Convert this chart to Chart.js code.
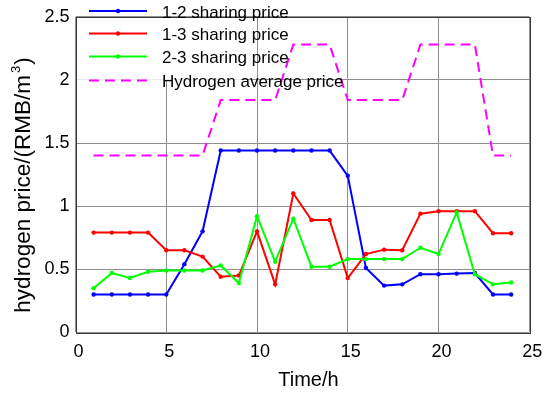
<!DOCTYPE html>
<html><head><meta charset="utf-8">
<script src="https://cdn.jsdelivr.net/npm/chart.js@4"></script>
<style>html,body{margin:0;padding:0;background:#fff}</style>
</head><body>
<canvas id="c" width="550" height="393" style="display:block;width:550px;height:393px"></canvas>
<script>
// ---- data ----
const hours = [1,2,3,4,5,6,7,8,9,10,11,12,13,14,15,16,17,18,19,20,21,22,23,24];
const price12 = [0.30,0.30,0.30,0.30,0.30,0.54,0.80,1.44,1.44,1.44,1.44,1.44,1.44,1.44,1.24,0.51,0.37,0.38,0.46,0.46,0.465,0.47,0.30,0.30];
const price13 = [0.79,0.79,0.79,0.79,0.65,0.65,0.60,0.44,0.45,0.80,0.38,1.10,0.89,0.89,0.43,0.62,0.655,0.65,0.94,0.96,0.96,0.96,0.785,0.785];
const price23 = [0.35,0.47,0.43,0.48,0.49,0.49,0.49,0.53,0.39,0.92,0.56,0.90,0.52,0.52,0.58,0.58,0.58,0.58,0.67,0.62,0.95,0.46,0.38,0.395];
const avgPrice = [1.40,1.40,1.40,1.40,1.40,1.40,1.40,1.84,1.84,1.84,1.84,2.28,2.28,2.28,1.84,1.84,1.84,1.84,2.28,2.28,2.28,2.28,1.40,1.40];
const seriesLabels = ['1-2 sharing price','1-3 sharing price','2-3 sharing price','Hydrogen average price'];
const xTicks = [0,5,10,15,20,25];
const yTicks = [0,0.5,1,1.5,2,2.5];
const xTitle = 'Time/h';
const yTitleMain = 'hydrogen price/(RMB/m';
const yTitleSup = '3';
const yTitleEnd = ')';

const FONT = '"Liberation Sans", Arial, Helvetica, sans-serif';
const pts = arr => hours.map((h,i)=>({x:h,y:arr[i]}));

const colors = ['#0000ff','#ff0000','#00ff00','#ff00ff'];

const datasets = [
  {label:seriesLabels[0], data:pts(price12), borderColor:colors[0], backgroundColor:colors[0], borderWidth:2, pointRadius:2.2, pointBorderWidth:0, order:4},
  {label:seriesLabels[1], data:pts(price13), borderColor:colors[1], backgroundColor:colors[1], borderWidth:2, pointRadius:2.2, pointBorderWidth:0, order:3},
  {label:seriesLabels[2], data:pts(price23), borderColor:colors[2], backgroundColor:colors[2], borderWidth:2, pointRadius:2.2, pointBorderWidth:0, order:2},
  {label:seriesLabels[3], data:pts(avgPrice), borderColor:colors[3], backgroundColor:colors[3], borderWidth:2, borderDash:[10,6], pointRadius:0, order:1}
];

const decor = {
  id:'decor',
  beforeDatasetsDraw(chart){
    const ctx = chart.ctx, a = chart.chartArea;
    ctx.save();
    ctx.fillStyle = '#fff';
    ctx.fillRect(a.left+1, a.top+1, 165, 62);
    ctx.restore();
  },
  afterDraw(chart){
    const ctx = chart.ctx, a = chart.chartArea;
    ctx.save();
    // box
    ctx.strokeStyle = '#3a3a3a';
    ctx.lineWidth = 1;
    ctx.strokeRect(Math.round(a.left)+0.5, Math.round(a.top)+0.5, Math.round(a.right-a.left), Math.round(a.bottom-a.top));
    // legend
    const rows = [11, 33.5, 56.5, 80.5];
    ctx.font = '17px ' + FONT;
    ctx.textBaseline = 'middle';
    ctx.textAlign = 'left';
    chart.data.datasets.forEach((ds,i)=>{
      const y = rows[i];
      ctx.strokeStyle = ds.borderColor;
      ctx.lineWidth = 2;
      ctx.setLineDash(ds.borderDash || []);
      ctx.beginPath(); ctx.moveTo(89, y); ctx.lineTo(147, y); ctx.stroke();
      ctx.setLineDash([]);
      if (ds.pointRadius > 0){
        ctx.fillStyle = ds.borderColor;
        ctx.beginPath(); ctx.arc(118, y, 2.2, 0, Math.PI*2); ctx.fill();
      }
      ctx.fillStyle = '#000';
      ctx.fillText(ds.label, 162, y + 2);
    });
    // x title
    ctx.font = '20px ' + FONT;
    ctx.textAlign = 'center';
    ctx.textBaseline = 'alphabetic';
    ctx.fillStyle = '#000';
    ctx.fillText(xTitle, (a.left+a.right)/2 + 6, 386);
    // y title
    ctx.translate(30, 185);
    ctx.rotate(-Math.PI/2);
    ctx.textAlign = 'left';
    const fMain = '22.5px ' + FONT, fSup = '13px ' + FONT;
    ctx.font = fMain; const w1 = ctx.measureText(yTitleMain).width;
    ctx.font = fSup; const w2 = ctx.measureText(yTitleSup).width + 3;
    ctx.font = fMain; const w3 = ctx.measureText(yTitleEnd).width;
    let x0 = -(w1+w2+w3)/2;
    ctx.font = fMain; ctx.fillText(yTitleMain, x0, 0);
    ctx.font = fSup; ctx.fillText(yTitleSup, x0 + w1 + 2, -10);
    ctx.font = fMain; ctx.fillText(yTitleEnd, x0 + w1 + w2, 0);
    ctx.restore();
  }
};

new Chart(document.getElementById('c'), {
  type:'line',
  data:{datasets},
  options:{
    responsive:false,
    animation:false,
    devicePixelRatio:1,
    layout:{padding:{top:9.3, right:20.7, left:0, bottom:0}},
    plugins:{legend:{display:false}, tooltip:{enabled:false}},
    elements:{line:{tension:0}},
    scales:{
      x:{
        type:'linear', min:0, max:25,
        afterBuildTicks: s => { s.ticks = xTicks.map(v=>({value:v})); },
        afterFit: s => { s.height = 60.7; },
        grid:{color:'#8f8f8f', lineWidth:1, drawTicks:false},
        border:{display:false},
        ticks:{padding:9, labelOffset:3, color:'#000', font:{family:FONT, size:18}, callback:v=>String(v)}
      },
      y:{
        type:'linear', min:0, max:2.5,
        afterBuildTicks: s => { s.ticks = yTicks.map(v=>({value:v})); },
        afterFit: s => { s.width = 75.5; },
        grid:{color:'#8f8f8f', lineWidth:1, drawTicks:false},
        border:{display:false},
        ticks:{padding:6, color:'#000', font:{family:FONT, size:18}, callback:v=>String(v)}
      }
    }
  },
  plugins:[decor]
});
</script>
</body></html>
